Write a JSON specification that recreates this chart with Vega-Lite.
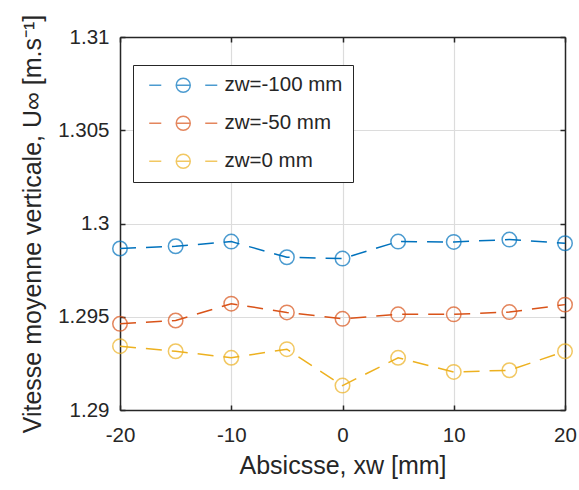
{
  "$schema": "https://vega.github.io/schema/vega-lite/v6.json",
  "autosize": "none",
  "width": 445,
  "height": 373,
  "padding": {"left": 120, "top": 37, "right": 14, "bottom": 80},
  "background": "white",
  "config": {
    "view": {"stroke": null},
    "font": "Liberation Sans",
    "axis": {
      "labelFont": "Liberation Sans",
      "titleFont": "Liberation Sans",
      "labelColor": "#262626",
      "titleColor": "#262626",
      "domainColor": "#262626",
      "tickColor": "#262626",
      "domainWidth": 1.5,
      "tickWidth": 1.5,
      "labelFontSize": 20.5,
      "titleFontSize": 25,
      "titleFontWeight": "normal",
      "labelFlush": false,
      "gridColor": "#dcdcdc",
      "gridWidth": 1.2
    },
    "legend": {
      "labelFont": "Liberation Sans",
      "labelFontSize": 20.5,
      "labelColor": "#262626"
    }
  },
  "data": {
    "values": [
      {"xw": -20, "u": 1.29866, "serie": "zw=-100 mm"},
      {"xw": -15, "u": 1.29878, "serie": "zw=-100 mm"},
      {"xw": -10, "u": 1.29903, "serie": "zw=-100 mm"},
      {"xw": -5, "u": 1.29819, "serie": "zw=-100 mm"},
      {"xw": 0, "u": 1.29812, "serie": "zw=-100 mm"},
      {"xw": 5, "u": 1.29903, "serie": "zw=-100 mm"},
      {"xw": 10, "u": 1.29901, "serie": "zw=-100 mm"},
      {"xw": 15, "u": 1.29914, "serie": "zw=-100 mm"},
      {"xw": 20, "u": 1.29894, "serie": "zw=-100 mm"},
      {"xw": -20, "u": 1.29462, "serie": "zw=-50 mm"},
      {"xw": -15, "u": 1.2948, "serie": "zw=-50 mm"},
      {"xw": -10, "u": 1.2957, "serie": "zw=-50 mm"},
      {"xw": -5, "u": 1.29523, "serie": "zw=-50 mm"},
      {"xw": 0, "u": 1.29489, "serie": "zw=-50 mm"},
      {"xw": 5, "u": 1.29513, "serie": "zw=-50 mm"},
      {"xw": 10, "u": 1.29513, "serie": "zw=-50 mm"},
      {"xw": 15, "u": 1.29525, "serie": "zw=-50 mm"},
      {"xw": 20, "u": 1.29565, "serie": "zw=-50 mm"},
      {"xw": -20, "u": 1.29342, "serie": "zw=0 mm"},
      {"xw": -15, "u": 1.29315, "serie": "zw=0 mm"},
      {"xw": -10, "u": 1.2928, "serie": "zw=0 mm"},
      {"xw": -5, "u": 1.29326, "serie": "zw=0 mm"},
      {"xw": 0, "u": 1.29131, "serie": "zw=0 mm"},
      {"xw": 5, "u": 1.2928, "serie": "zw=0 mm"},
      {"xw": 10, "u": 1.29204, "serie": "zw=0 mm"},
      {"xw": 15, "u": 1.29213, "serie": "zw=0 mm"},
      {"xw": 20, "u": 1.29315, "serie": "zw=0 mm"}
    ]
  },
  "layer": [
    {
      "mark": {"type": "line", "strokeDash": [16, 10], "strokeWidth": 1.5},
      "encoding": {
        "x": {
          "field": "xw", "type": "quantitative",
          "scale": {"domain": [-20, 20], "nice": false, "zero": false},
          "axis": {
            "orient": "bottom", "values": [-20, -10, 0, 10, 20], "grid": true, "labelExpr": "datum.value + ''",
            "tickSize": -5, "labelPadding": 20, "title": "Absicsse, xw [mm]", "titlePadding": 8
          }
        },
        "y": {
          "field": "u", "type": "quantitative",
          "scale": {"domain": [1.29, 1.31], "nice": false, "zero": false},
          "axis": {
            "orient": "left", "values": [1.29, 1.295, 1.3, 1.305, 1.31], "format": "~g", "grid": true,
            "tickSize": -5, "labelPadding": 16, "title": "Vitesse moyenne verticale, U∞ [m.s⁻¹]", "titlePadding": 12
          }
        },
        "color": {
          "field": "serie", "type": "nominal",
          "scale": {"domain": ["zw=-100 mm", "zw=-50 mm", "zw=0 mm"], "range": ["#0072BD", "#D95319", "#EDB120"]},
          "legend": {
            "title": null,
            "orient": "none",
            "legendX": 13,
            "legendY": 28,
            "strokeColor": "#262626",
            "fillColor": "white",
            "padding": 10,
            "symbolType": "M-4.86,0H-3.14M-1,0A1,1 0 1,1 1,0A1,1 0 1,1 -1,0M-1,0H1M3.14,0H4.86",
            "symbolSize": 196,
            "symbolStrokeWidth": 1.5,
            "symbolFillColor": "transparent",
            "symbolOffset": 30,
            "labelOffset": 31,
            "rowPadding": 17
          }
        }
      }
    },
    {
      "mark": {"type": "point", "shape": "circle", "filled": false, "size": 210, "strokeWidth": 1.5},
      "encoding": {
        "x": {"field": "xw", "type": "quantitative", "axis": null, "scale": {"domain": [-20, 20], "nice": false, "zero": false}},
        "y": {"field": "u", "type": "quantitative", "axis": null, "scale": {"domain": [1.29, 1.31], "nice": false, "zero": false}},
        "color": {"field": "serie", "type": "nominal"}
      }
    },
    {
      "mark": {"type": "point", "opacity": 0},
      "encoding": {
        "x": {"field": "xw", "type": "quantitative", "scale": {"domain": [-20, 20], "nice": false, "zero": false},
          "axis": {"orient": "top", "values": [-20, -10, 0, 10, 20], "labels": false, "grid": false, "tickSize": -5, "title": null}},
        "y": {"field": "u", "type": "quantitative", "scale": {"domain": [1.29, 1.31], "nice": false, "zero": false},
          "axis": {"orient": "right", "values": [1.29, 1.295, 1.3, 1.305, 1.31], "labels": false, "grid": false, "tickSize": -5, "title": null}}
      }
    }
  ],
  "resolve": {"axis": {"x": "independent", "y": "independent"}}
}
